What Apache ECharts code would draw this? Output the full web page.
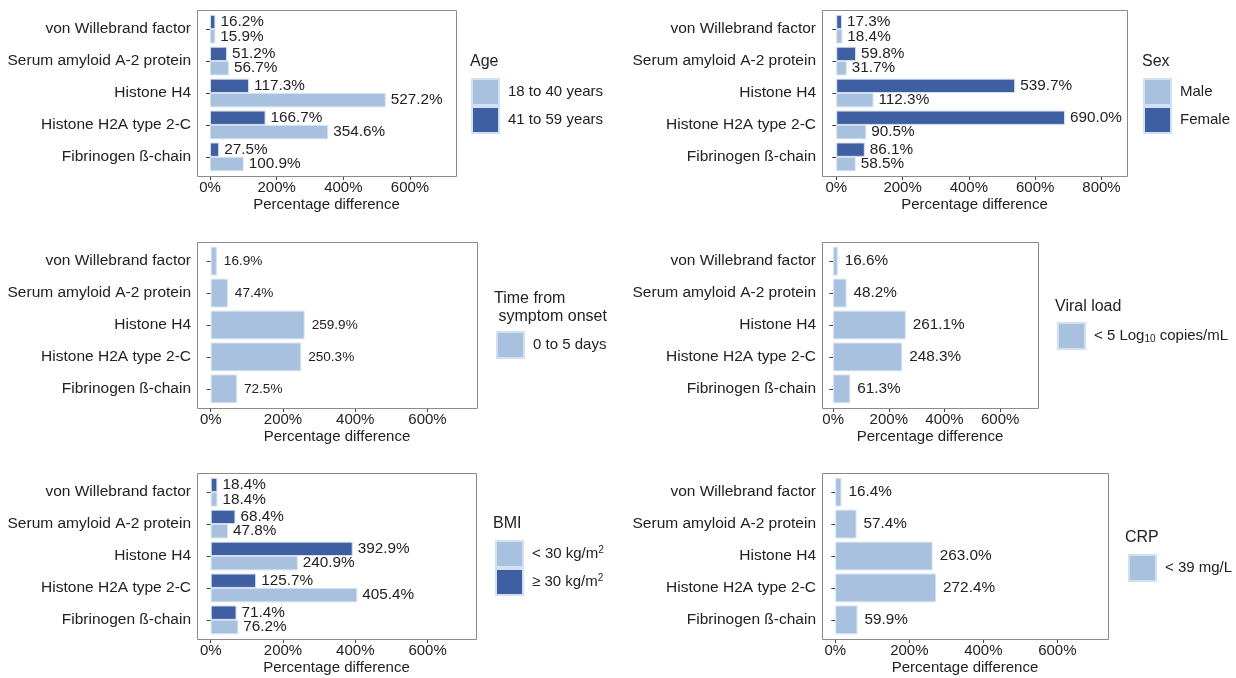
<!DOCTYPE html>
<html>
<head>
<meta charset="utf-8">
<script src="https://cdn.jsdelivr.net/npm/echarts@6/dist/echarts.min.js"></script>
<style>
  html, body { margin: 0; padding: 0; background: #fff; }
  #chart { width: 1236px; height: 678px; }
</style>
</head>
<body>
<div id="chart"></div>
<script>
'use strict';

var categories = ['von Willebrand factor', 'Serum amyloid A-2 protein', 'Histone H4', 'Histone H2A type 2-C', 'Fibrinogen ß-chain'];
var xTicks = [0, 200, 400, 600];
var xTicksSex = [0, 200, 400, 600, 800];

var age18to40 = [15.9, 56.7, 527.2, 354.6, 100.9];
var age41to59 = [16.2, 51.2, 117.3, 166.7, 27.5];
var sexMale = [18.4, 31.7, 112.3, 90.5, 58.5];
var sexFemale = [17.3, 59.8, 539.7, 690.0, 86.1];
var onset0to5 = [16.9, 47.4, 259.9, 250.3, 72.5];
var viralLow = [16.6, 48.2, 261.1, 248.3, 61.3];
var bmiUnder30 = [18.4, 47.8, 240.9, 405.4, 76.2];
var bmiOver30 = [18.4, 68.4, 392.9, 125.7, 71.4];
var crpLow = [16.4, 57.4, 263.0, 272.4, 59.9];

var light = '#a8c1de',
		dark = '#3e5fa2',
		textColor = '#222',
		font = "'Liberation Sans', Arial, sans-serif",
		pad = 3.2; // ggplot leaves 0.6 of a band above/below the first/last bar

// one entry per panel: frame box, x range, legend spot
var panels = [
	{ box: [197, 10, 259, 166], x: [-39, 738], ticks: xTicks, labelSize: 15.3, labelGap: 5,
		title: 'Age', titlePos: [470, 53], legendPos: [471, 78],
		series: [['41 to 59 years', age41to59, dark], ['18 to 40 years', age18to40, light]],
		legend: ['18 to 40 years', '41 to 59 years'] },
	{ box: [822, 10, 305, 166], x: [-43, 877], ticks: xTicksSex, labelSize: 15.3, labelGap: 5,
		title: 'Sex', titlePos: [1142, 53], legendPos: [1143, 78],
		series: [['Female', sexFemale, dark], ['Male', sexMale, light]],
		legend: ['Male', 'Female'] },
	{ box: [197, 242, 280, 166], x: [-38, 737], ticks: xTicks, labelSize: 13.6, labelGap: 7,
		title: 'Time from\n symptom onset', titlePos: [494, 290], legendPos: [496, 331],
		series: [['0 to 5 days', onset0to5, light]],
		legend: ['0 to 5 days'] },
	{ box: [822, 242, 216, 166], x: [-40, 736], ticks: xTicks, labelSize: 15.3, labelGap: 7,
		title: 'Viral load', titlePos: [1055, 298], legendPos: [1057, 322],
		series: [['< 5 Log10 copies/mL', viralLow, light]],
		legend: ['< 5 Log10 copies/mL'] },
	{ box: [197, 473, 279, 166], x: [-38, 734], ticks: xTicks, labelSize: 15.3, labelGap: 5,
		title: 'BMI', titlePos: [493, 515], legendPos: [495, 540],
		series: [['≥ 30 kg/m2', bmiOver30, dark], ['< 30 kg/m2', bmiUnder30, light]],
		legend: ['< 30 kg/m2', '≥ 30 kg/m2'] },
	{ box: [822, 473, 286, 166], x: [-36, 737], ticks: xTicks, labelSize: 15.3, labelGap: 7,
		title: 'CRP', titlePos: [1125, 529], legendPos: [1128, 554],
		series: [['< 39 mg/L', crpLow, light]],
		legend: ['< 39 mg/L'] }
];

function legendName(name) {
	return name.replace('m2', 'm{sup|2}').replace('Log10', 'Log{sub|10}');
}

function buildOption() {
	var option = {
		backgroundColor: '#fff',
		animation: false,
		textStyle: { fontFamily: font },
		title: [], grid: [], xAxis: [], yAxis: [], legend: [], series: [], graphic: []
	};

	panels.forEach(function (p, i) {
		option.grid.push({
			left: p.box[0], top: p.box[1] + pad, width: p.box[2], height: p.box[3] - 2 * pad,
			show: false
		});

		// panel border
		option.graphic.push({
			type: 'rect', z: 100, silent: true,
			shape: { x: p.box[0] + 0.5, y: p.box[1] + 0.5, width: p.box[2], height: p.box[3] },
			style: { fill: null, stroke: '#8a8a8a', lineWidth: 1 }
		});

		option.xAxis.push({
			type: 'value', gridIndex: i, min: p.x[0], max: p.x[1], offset: pad,
			axisLine: { show: false },
			splitLine: { show: false },
			axisTick: { show: true, length: 4, customValues: p.ticks, lineStyle: { color: '#444' } },
			axisLabel: {
				customValues: p.ticks, margin: 4, fontSize: 15, color: textColor, fontFamily: font,
				formatter: '{value}%'
			},
			name: 'Percentage difference', nameLocation: 'middle', nameGap: 21,
			nameTextStyle: { fontSize: 15, color: textColor, fontFamily: font }
		});

		option.yAxis.push({
			type: 'category', gridIndex: i, data: categories, inverse: true,
			axisLine: { show: false },
			axisTick: { show: true, length: 4, alignWithLabel: true, lineStyle: { color: '#444' } },
			axisLabel: { margin: 6, fontSize: 15.5, color: textColor, fontFamily: font }
		});

		option.title.push({
			text: p.title, left: p.titlePos[0], top: p.titlePos[1], padding: 0,
			textStyle: { fontSize: 16, fontWeight: 'normal', color: textColor, fontFamily: font, lineHeight: 18 }
		});

		option.legend.push({
			data: p.legend, orient: 'vertical', left: p.legendPos[0], top: p.legendPos[1],
			padding: 0, itemGap: 0, itemWidth: 27, itemHeight: 26, icon: 'rect',
			selectedMode: false,
			formatter: legendName,
			textStyle: {
				fontSize: 15, color: textColor, fontFamily: font, padding: [0, 0, 0, 4],
				rich: {
					sup: { fontSize: 10, verticalAlign: 'top', color: textColor, padding: [0, 0, 7, 0] },
					sub: { fontSize: 10, verticalAlign: 'bottom', color: textColor, padding: [6, 0, 0, 0] }
				}
			}
		});

		p.series.forEach(function (s) {
			option.series.push({
				name: s[0], type: 'bar', xAxisIndex: i, yAxisIndex: i, data: s[1],
				barGap: '0%', barCategoryGap: '10%',
				itemStyle: { color: s[2], borderColor: '#d3e0ef', borderWidth: 1 },
				label: {
					show: true, position: 'right', distance: p.labelGap,
					fontSize: p.labelSize, color: textColor, fontFamily: font,
					formatter: function (d) {
						return d.value.toFixed(1) + '%';
					}
				}
			});
		});
	});

	return option;
}

var chart = echarts.init(document.getElementById('chart'), null, { renderer: 'canvas' });
chart.setOption(buildOption());
</script>
</body>
</html>
